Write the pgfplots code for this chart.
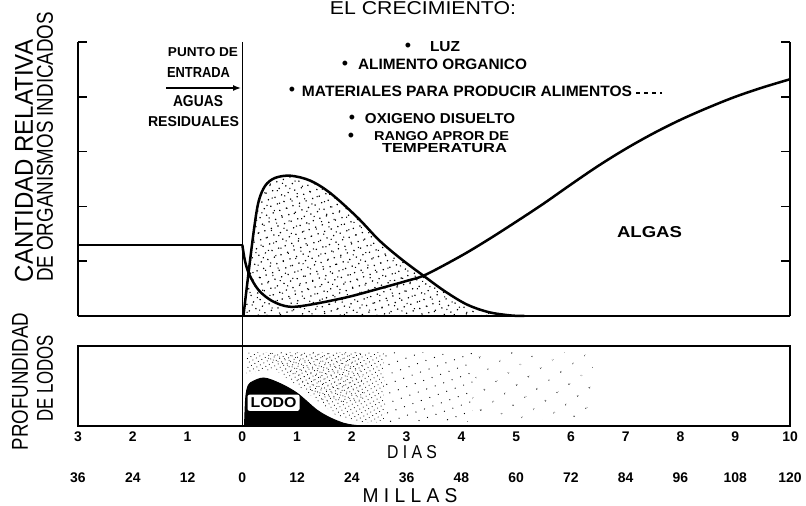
\documentclass[border=0pt]{standalone}
\usepackage{pgfplots}
\pgfplotsset{compat=1.18}
\usepackage{pgfplotstable}
\usepackage{fontspec}
\setmainfont{Liberation Sans}
\usepackage{graphicx}
\usetikzlibrary{patterns.meta,arrows.meta}
\newcommand{\rb}[3]{\resizebox{#1bp}{#2bp}{#3}}
\pgfplotstableread{
x y
0.02 0
0.12 0.84
0.22 1.63
0.30 2.10
0.42 2.38
0.60 2.52
0.88 2.56
1.24 2.47
1.61 2.24
2.10 1.80
2.50 1.38
2.90 1.04
3.30 0.74
3.70 0.45
4.10 0.21
4.50 0.07
4.90 0.01
5.15 0
}\bacteria
\begin{document}
\begin{tikzpicture}[x=1bp,y=1bp]
\useasboundingbox (0,0) rectangle (806,506);
% ---------------- top panel ----------------
\begin{axis}[
  at={(78bp,190bp)}, anchor=south west,
  width=712bp, height=274bp, scale only axis,
  xmin=-3, xmax=10, ymin=0, ymax=5,
  axis x line=bottom, axis y line=box,
  axis line style={-, line width=1.6bp},
  xtick=\empty, ytick={1,2,3,4,5}, yticklabels={},
  tick align=inside, major tick length=9bp,
  tick style={line width=1.6bp, black},
  clip=false]
% bacteria (stippled)
\addplot[draw=none, pattern={Dots[distance=7bp,radius=0.85bp,angle=20]}, smooth, tension=0.55] table {\bacteria} \closedcycle;
\addplot[draw=none, pattern={Dots[distance=9bp,radius=0.75bp,angle=-35,xshift=3bp,yshift=2bp]}, smooth, tension=0.55] table {\bacteria} \closedcycle;
\addplot[line width=2.5bp, smooth, tension=0.55] table {\bacteria};
% algae / organisms line
\addplot[line width=2.5bp] coordinates {(-3,1.30) (0,1.30)};
\addplot[line width=2.5bp, smooth, tension=0.55] coordinates {
 (0,1.30) (0.05,1.0) (0.13,0.75) (0.30,0.47) (0.55,0.27) (0.85,0.17) (1.2,0.20) (1.9,0.34)
 (2.5,0.50) (3.0,0.64) (3.34,0.75) (4.0,1.10) (4.5,1.40) (5.0,1.72) (5.5,2.05) (6.0,2.40)
 (6.5,2.74) (7.0,3.05) (7.5,3.33) (8.0,3.58) (8.5,3.80) (9.0,4.00) (9.5,4.17) (10,4.32)};
% discharge point line
\addplot[line width=1.3bp] coordinates {(0,5) (0,-2.0)};
\end{axis}
% ---------------- lower panel ----------------
\begin{axis}[
  at={(78bp,80bp)}, anchor=south west,
  width=712bp, height=80bp, scale only axis,
  xmin=-3, xmax=10, ymin=0, ymax=1,
  axis line style={line width=1.6bp},
  xtick={-3,-2,-1,0,1,2,3,4,5,6,7,8,9,10},
  xticklabels={\textbf{3},\textbf{2},\textbf{1},\textbf{0},\textbf{1},\textbf{2},\textbf{3},\textbf{4},\textbf{5},\textbf{6},\textbf{7},\textbf{8},\textbf{9},\textbf{10}},
  major tick length=0pt, ytick=\empty,
  xticklabel style={font=\fontsize{14}{14}\selectfont, anchor=base, yshift=-16bp},
  clip=false]
\addplot[draw=none, pattern={Dots[distance=4bp,radius=0.55bp,angle=30]}] coordinates {
 (0.08,0.62) (0.08,0.92) (2.6,0.92) (2.6,0.05) (2.15,0.04) (1.7,0.14) (1.1,0.46) (0.6,0.70) (0.25,0.68)} -- cycle;
\addplot[draw=none, pattern={Dots[distance=5bp,radius=0.5bp,angle=-20,xshift=2bp]}] coordinates {
 (0.3,0.92) (2.2,0.92) (2.2,0.3) (1.5,0.3) (0.8,0.7)} -- cycle;
\addplot[draw=none, pattern={Dots[distance=9bp,radius=0.65bp,angle=20]}] coordinates {
 (2.6,0.92) (4.2,0.92) (4.2,0.05) (2.6,0.05)} -- cycle;
\addplot[draw=none, pattern={Dots[distance=15bp,radius=0.75bp,angle=35]}] coordinates {
 (4.2,0.92) (6.4,0.92) (6.4,0.08) (4.2,0.08)} -- cycle;
\addplot[fill=black, draw=black, line width=1bp, smooth, tension=0.5] coordinates {
 (0.04,0) (0.06,0.33) (0.09,0.47) (0.15,0.54) (0.39,0.60) (0.69,0.53) (1.0,0.41) (1.36,0.20)
 (1.61,0.10) (1.85,0.034) (2.03,0.01) (2.2,0)} \closedcycle;
\node[fill=white, rounded corners=2bp, inner sep=3bp] at (axis cs:0.57,0.29) {\rb{46}{10}{\bfseries LODO}};
% miles labels
\node[font=\bfseries\fontsize{14}{14}\selectfont, anchor=base, yshift=-57bp] at (axis cs:-3,0) {36};
\node[font=\bfseries\fontsize{14}{14}\selectfont, anchor=base, yshift=-57bp] at (axis cs:-2,0) {24};
\node[font=\bfseries\fontsize{14}{14}\selectfont, anchor=base, yshift=-57bp] at (axis cs:-1,0) {12};
\node[font=\bfseries\fontsize{14}{14}\selectfont, anchor=base, yshift=-57bp] at (axis cs:0,0) {0};
\node[font=\bfseries\fontsize{14}{14}\selectfont, anchor=base, yshift=-57bp] at (axis cs:1,0) {12};
\node[font=\bfseries\fontsize{14}{14}\selectfont, anchor=base, yshift=-57bp] at (axis cs:2,0) {24};
\node[font=\bfseries\fontsize{14}{14}\selectfont, anchor=base, yshift=-57bp] at (axis cs:3,0) {36};
\node[font=\bfseries\fontsize{14}{14}\selectfont, anchor=base, yshift=-57bp] at (axis cs:4,0) {48};
\node[font=\bfseries\fontsize{14}{14}\selectfont, anchor=base, yshift=-57bp] at (axis cs:5,0) {60};
\node[font=\bfseries\fontsize{14}{14}\selectfont, anchor=base, yshift=-57bp] at (axis cs:6,0) {72};
\node[font=\bfseries\fontsize{14}{14}\selectfont, anchor=base, yshift=-57bp] at (axis cs:7,0) {84};
\node[font=\bfseries\fontsize{14}{14}\selectfont, anchor=base, yshift=-57bp] at (axis cs:8,0) {96};
\node[font=\bfseries\fontsize{14}{14}\selectfont, anchor=base, yshift=-57bp] at (axis cs:9,0) {108};
\node[font=\bfseries\fontsize{14}{14}\selectfont, anchor=base, yshift=-57bp] at (axis cs:10,0) {120};
\end{axis}
% ---------------- text ----------------
\begin{scope}[every node/.append style={inner sep=0pt}]
\node[anchor=base] at (423,491) {\rb{186}{13}{EL CRECIMIENTO:}};
\node[rotate=90] at (24,345) {\rb{242}{18}{CANTIDAD RELATIVA}};
\node[rotate=90] at (45,359) {\rb{270}{16}{DE ORGANISMOS INDICADOS}};
\node[rotate=90] at (20,124.5) {\rb{137}{16}{PROFUNDIDAD}};
\node[rotate=90] at (45,127.5) {\rb{87}{16}{DE LODOS}};
\node at (203,453.5) {\rb{70}{9}{\bfseries PUNTO DE}};
\node at (198.5,433) {\rb{63}{10}{\bfseries ENTRADA}};
\draw[line width=1.4bp, -{Latex[length=8bp,width=6bp]}] (166,418) -- (241,418);
\node at (198,405) {\rb{50}{11}{\bfseries AGUAS}};
\node at (193.5,384) {\rb{91}{10}{\bfseries RESIDUALES}};
\node[font=\fontsize{18}{18}\selectfont] at (408,459) {\textbullet};
\node[font=\fontsize{18}{18}\selectfont] at (345,440.5) {\textbullet};
\node[font=\fontsize{18}{18}\selectfont] at (292,414.5) {\textbullet};
\node[font=\fontsize{18}{18}\selectfont] at (352,386.5) {\textbullet};
\node[font=\fontsize{18}{18}\selectfont] at (351,368.5) {\textbullet};
\node at (445,459) {\rb{30}{10}{\bfseries LUZ}};
\node at (442.5,441.5) {\rb{169}{10.5}{\bfseries ALIMENTO ORGANICO}};
\node at (467,415) {\rb{330}{10.5}{\bfseries MATERIALES PARA PRODUCIR ALIMENTOS}};
\draw[line width=1.2bp, dash pattern=on 4bp off 4bp] (636,413) -- (662,413);
\node at (440,387) {\rb{150}{10}{\bfseries OXIGENO DISUELTO}};
\node at (441.5,370) {\rb{135}{9}{\bfseries RANGO APROR DE}};
\node at (444.5,357.5) {\rb{125}{9}{\bfseries TEMPERATURA}};
\node at (649.5,273.5) {\rb{65}{11}{\bfseries ALGAS}};
\node at (412,54) {\rb{50}{13}{D I A S}};
\node at (410,10) {\rb{95}{14}{M I L L A S}};
\end{scope}
\end{tikzpicture}
\end{document}
